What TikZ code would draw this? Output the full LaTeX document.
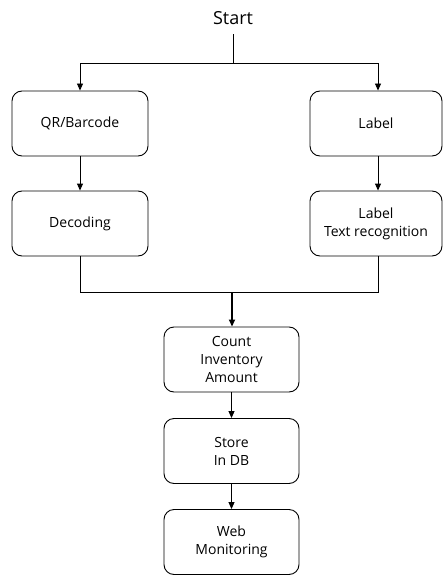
\documentclass[tikz,border=0pt]{standalone}
\usepackage{fontspec}
\setmainfont{Open Sans}
\usetikzlibrary{arrows.meta}
\begin{document}
\begin{tikzpicture}[x=1pt,y=-1pt,
        box/.style={draw,line width=0.9pt,rounded corners=10pt,minimum width=136pt,minimum height=65pt,align=center,inner sep=2pt,font=\fontsize{14}{18}\selectfont},
        link/.style={line width=0.9pt},
        arr/.style={line width=0.9pt,-{Triangle[length=7pt,width=6pt]}}]
                \useasboundingbox (0,0) rectangle (443,575);
                \node[font=\fontsize{18}{20}\selectfont] (start) at (233,18) {Start};
                \node[box] (qr) at (80,123.5) {QR/Barcode};
                \node[box,minimum width=132pt] (label) at (376,123.5) {Label};
                \node[box] (decode) at (80,223.5) {Decoding};
                \node[box,minimum width=132pt] (ocr) at (376,223.5) {Label\\Text recognition};
                \node[box,minimum width=135pt] (count) at (231.5,359.5) {Count\\Inventory\\Amount};
                \node[box,minimum width=135pt] (store) at (231.5,451) {Store\\In DB};
                \node[box,minimum width=135pt] (web) at (231.5,542) {Web\\Monitoring};
                \coordinate (split) at (233,63);
                \coordinate (merge) at (232,292);
                % split to both inputs
                \draw[link] (start.south) ++(0,6) -- (split);
                \draw[arr] (split) -| (qr.north);
                \draw[arr] (split) -| ([xshift=2pt]label.north);
                \draw[arr] (qr) -- (decode);
                \draw[arr] ([xshift=2pt]label.south) -- ([xshift=2pt]ocr.north);
                % merge into count
                \draw[link] (decode.south) |- (merge);
                \draw[link] ([xshift=2pt]ocr.south) |- (merge);
                \draw[arr,line width=1.6pt] (merge) -- (count.north -| merge);
                \draw[arr] (count) -- (store);
                \draw[arr] (store) -- (web);
\end{tikzpicture}
\end{document}
